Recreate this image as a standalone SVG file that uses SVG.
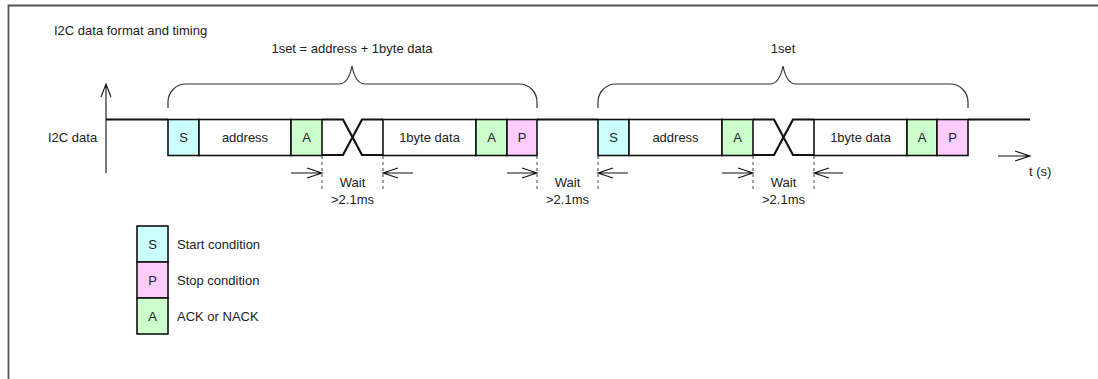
<svg xmlns="http://www.w3.org/2000/svg" width="1098" height="379" viewBox="0 0 1098 379">
<defs>
<style>
text{font-family:"Liberation Sans",Arial,sans-serif;font-size:13px;fill:#222}
.c{text-anchor:middle}
.box{stroke:#111;stroke-width:1.6}
.s{fill:#ccffff}.p{fill:#ffccff}.a{fill:#ccffcc}.w{fill:#fff}
.sig{fill:none;stroke:#111;stroke-width:2.2;stroke-linejoin:miter}
.brace{fill:none;stroke:#333;stroke-width:1.2}
.arr{fill:none;stroke:#111;stroke-width:1.1}
.dash{stroke:#444;stroke-width:1;stroke-dasharray:3 3}
</style>
</defs>
<rect width="1098" height="379" fill="#fff"/>
<path d="M8.5,400 V5.5 H1110" fill="none" stroke="#555" stroke-width="1.8"/>
<text x="54" y="35">I2C data format and timing</text>
<text x="48" y="141.5">I2C data</text>

<g id="connectors">
<path class="arr" d="M106,173 V84 M101,97 L106,84 L111,97"/>
<path class="sig" d="M106,119.5 H168"/>
<path class="sig" d="M322,119.5 H343 L362,155 H383 M322,155 H343 L362,119.5 H383"/>
<path class="sig" d="M537,119.5 H598"/>
<path class="sig" d="M753,119.5 H774 L793,155 H814 M753,155 H774 L793,119.5 H814"/>
<path class="sig" d="M968,119.5 H1030"/>
<path class="brace" d="M168,108 V102 A18,18 0 0 1 186,84 H339 C346,84 350,76 352,66 C354,76 358,84 365,84 H519 A18,18 0 0 1 537,102 V108"/>
<path class="brace" d="M598,108 V102 A18,18 0 0 1 616,84 H770 C777,84 781,76 783,66 C785,76 789,84 796,84 H950 A18,18 0 0 1 968,102 V108"/>
<line class="dash" x1="322" y1="156" x2="322" y2="189"/>
<line class="dash" x1="383" y1="156" x2="383" y2="189"/>
<line class="dash" x1="537" y1="156" x2="537" y2="189"/>
<line class="dash" x1="598" y1="156" x2="598" y2="189"/>
<line class="dash" x1="753" y1="156" x2="753" y2="189"/>
<line class="dash" x1="814" y1="156" x2="814" y2="189"/>
<path class="arr" d="M291,173 H322 M307,168 L322,173 L307,178"/>
<path class="arr" d="M413,173 H383 M398,168 L383,173 L398,178"/>
<path class="arr" d="M507,173 H537 M522,168 L537,173 L522,178"/>
<path class="arr" d="M628,173 H598 M613,168 L598,173 L613,178"/>
<path class="arr" d="M722,173 H753 M738,168 L753,173 L738,178"/>
<path class="arr" d="M843,173 H814 M829,168 L814,173 L829,178"/>
<path class="arr" d="M998,156 H1030 M1015,151 L1030,156 L1015,161"/>
</g>

<g id="set1-label"><text class="c" x="352" y="53">1set = address + 1byte data</text></g>
<g id="set2-label"><text class="c" x="783" y="53">1set</text></g>

<g id="s1"><rect class="box s" x="168" y="119.5" width="31" height="36"/><text class="c" x="183.5" y="141.5">S</text></g>
<g id="addr1"><rect class="box w" x="199" y="119.5" width="92" height="36"/><text class="c" x="245" y="141.5">address</text></g>
<g id="a1"><rect class="box a" x="291" y="119.5" width="31" height="36"/><text class="c" x="306.5" y="141.5">A</text></g>
<g id="data1"><rect class="box w" x="383" y="119.5" width="93" height="36"/><text class="c" x="429.5" y="141.5">1byte data</text></g>
<g id="a2"><rect class="box a" x="476" y="119.5" width="31" height="36"/><text class="c" x="491.5" y="141.5">A</text></g>
<g id="p1"><rect class="box p" x="507" y="119.5" width="30" height="36"/><text class="c" x="522" y="141.5">P</text></g>

<g id="s2"><rect class="box s" x="598" y="119.5" width="31" height="36"/><text class="c" x="613.5" y="141.5">S</text></g>
<g id="addr2"><rect class="box w" x="629" y="119.5" width="93" height="36"/><text class="c" x="675.5" y="141.5">address</text></g>
<g id="a3"><rect class="box a" x="722" y="119.5" width="31" height="36"/><text class="c" x="737.5" y="141.5">A</text></g>
<g id="data2"><rect class="box w" x="814" y="119.5" width="93" height="36"/><text class="c" x="860.5" y="141.5">1byte data</text></g>
<g id="a4"><rect class="box a" x="907" y="119.5" width="30" height="36"/><text class="c" x="922" y="141.5">A</text></g>
<g id="p2"><rect class="box p" x="937" y="119.5" width="31" height="36"/><text class="c" x="952.5" y="141.5">P</text></g>

<g id="wait1"><text class="c" x="352.5" y="186.5">Wait</text><text class="c" x="352.5" y="204">&gt;2.1ms</text></g>
<g id="wait2"><text class="c" x="567.5" y="186.5">Wait</text><text class="c" x="567.5" y="204">&gt;2.1ms</text></g>
<g id="wait3"><text class="c" x="783.5" y="186.5">Wait</text><text class="c" x="783.5" y="204">&gt;2.1ms</text></g>
<g id="time-label"><text x="1029" y="176">t (s)</text></g>

<g id="legend-s"><rect class="box s" x="137" y="226" width="31" height="36"/><text class="c" x="152.5" y="249">S</text><text x="177" y="249">Start condition</text></g>
<g id="legend-p"><rect class="box p" x="137" y="262" width="31" height="36"/><text class="c" x="152.5" y="285">P</text><text x="177" y="285">Stop condition</text></g>
<g id="legend-a"><rect class="box a" x="137" y="298" width="31" height="36"/><text class="c" x="152.5" y="321">A</text><text x="177" y="321">ACK or NACK</text></g>
</svg>
